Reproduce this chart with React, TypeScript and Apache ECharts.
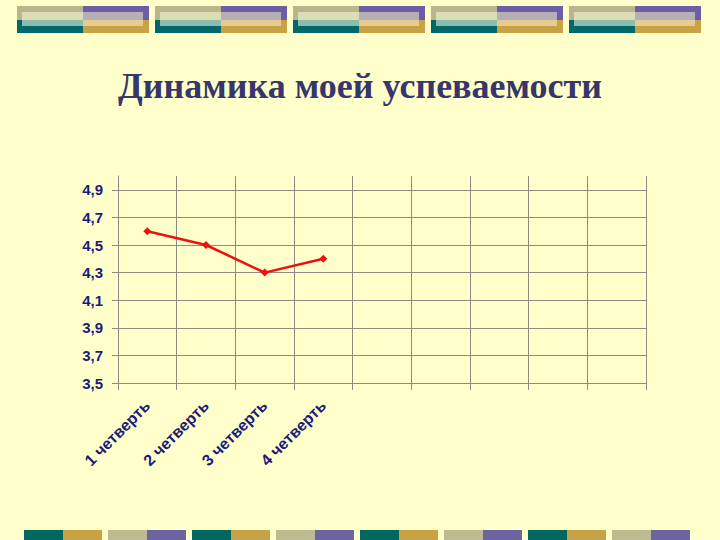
import React, { useEffect, useRef } from "react";
import * as echarts from "echarts";

const titleText = "Динамика моей успеваемости";
const categories = ["1 четверть", "2 четверть", "3 четверть", "4 четверть", "", "", "", "", ""];
const grades = [4.6, 4.5, 4.3, 4.4];
const yTicks = [3.5, 3.7, 3.9, 4.1, 4.3, 4.5, 4.7, 4.9];
const yMin = 3.5;
const yMax = 5.0;

const NAVY = "#1c1c78";
const GRID = "#8c8c84";

function decorations(): any[] {
  const els: any[] = [];
  // top row: 5 blocks
  for (let i = 0; i < 5; i++) {
    const x = 17 + i * 138;
    const half = 66;
    els.push(
      { type: "rect", shape: { x, y: 6, width: half, height: 14 }, style: { fill: "#b9b68c" }, silent: true },
      { type: "rect", shape: { x, y: 20, width: half, height: 13 }, style: { fill: "#006868" }, silent: true },
      { type: "rect", shape: { x: x + half, y: 6, width: half, height: 14 }, style: { fill: "#6c5ea6" }, silent: true },
      { type: "rect", shape: { x: x + half, y: 20, width: half, height: 13 }, style: { fill: "#c8a244" }, silent: true },
      { type: "rect", shape: { x: x + 5, y: 12, width: half - 5, height: 8 }, style: { fill: "#dcdcb6" }, silent: true },
      { type: "rect", shape: { x: x + 5, y: 20, width: half - 5, height: 6 }, style: { fill: "#8cbcae" }, silent: true },
      { type: "rect", shape: { x: x + half, y: 12, width: half - 6, height: 8 }, style: { fill: "#b6b0b6" }, silent: true },
      { type: "rect", shape: { x: x + half, y: 20, width: half - 6, height: 6 }, style: { fill: "#e6cc8e" }, silent: true }
    );
  }
  // bottom row: 8 blocks
  for (let i = 0; i < 8; i++) {
    const x = 24 + i * 84;
    const even = i % 2 === 0;
    els.push(
      { type: "rect", shape: { x, y: 530, width: 39, height: 10 }, style: { fill: even ? "#006860" : "#bcbc90" }, silent: true },
      { type: "rect", shape: { x: x + 39, y: 530, width: 39, height: 10 }, style: { fill: even ? "#c8a244" : "#6c64a0" }, silent: true }
    );
  }
  return els;
}

export default function App() {
  const ref = useRef<HTMLDivElement>(null);
  useEffect(() => {
    if (!ref.current) return;
    const chart = echarts.init(ref.current, null, { renderer: "svg" });
    chart.setOption({
      animation: false,
      backgroundColor: "#ffffcc",
      title: {
        text: titleText,
        left: "center",
        top: 63,
        textStyle: {
          fontFamily: "Liberation Serif",
          fontWeight: "bold",
          fontSize: 36,
          color: "#36366a",
        },
      },
      graphic: decorations(),
      grid: { left: 118, right: 74, top: 176, bottom: 157 },
      xAxis: {
        type: "category",
        data: categories,
        boundaryGap: true,
        axisLine: { show: true, lineStyle: { color: GRID, width: 1 } },
        axisTick: { show: true, length: 7, interval: 0, lineStyle: { color: GRID } },
        splitLine: { show: true, interval: 0, lineStyle: { color: GRID, width: 1 } },
        axisLabel: {
          interval: 0,
          rotate: 45,
          margin: 20,
          color: NAVY,
          fontFamily: "Liberation Sans",
          fontWeight: "bold",
          fontSize: 16,
        },
      },
      yAxis: {
        type: "value",
        min: yMin,
        max: yMax,
        axisLine: { show: true, lineStyle: { color: GRID, width: 1 } },
        axisTick: { show: true, length: 6, customValues: yTicks, lineStyle: { color: GRID } },
        splitLine: { show: true, lineStyle: { color: GRID, width: 1 } },
        axisLabel: {
          customValues: yTicks,
          margin: 15,
          color: NAVY,
          fontFamily: "Liberation Sans",
          fontWeight: "bold",
          fontSize: 15,
          formatter: (v: number) => v.toFixed(1).replace(".", ","),
        },
      },
      series: [
        {
          type: "line",
          data: grades,
          symbol: "diamond",
          symbolSize: 8,
          lineStyle: { color: "#ee1010", width: 2.5 },
          itemStyle: { color: "#ee1010" },
        },
      ],
    });
    return () => chart.dispose();
  }, []);
  return (
    <div
      ref={ref}
      style={{ position: "fixed", left: 0, top: 0, width: 720, height: 540 }}
    />
  );
}
